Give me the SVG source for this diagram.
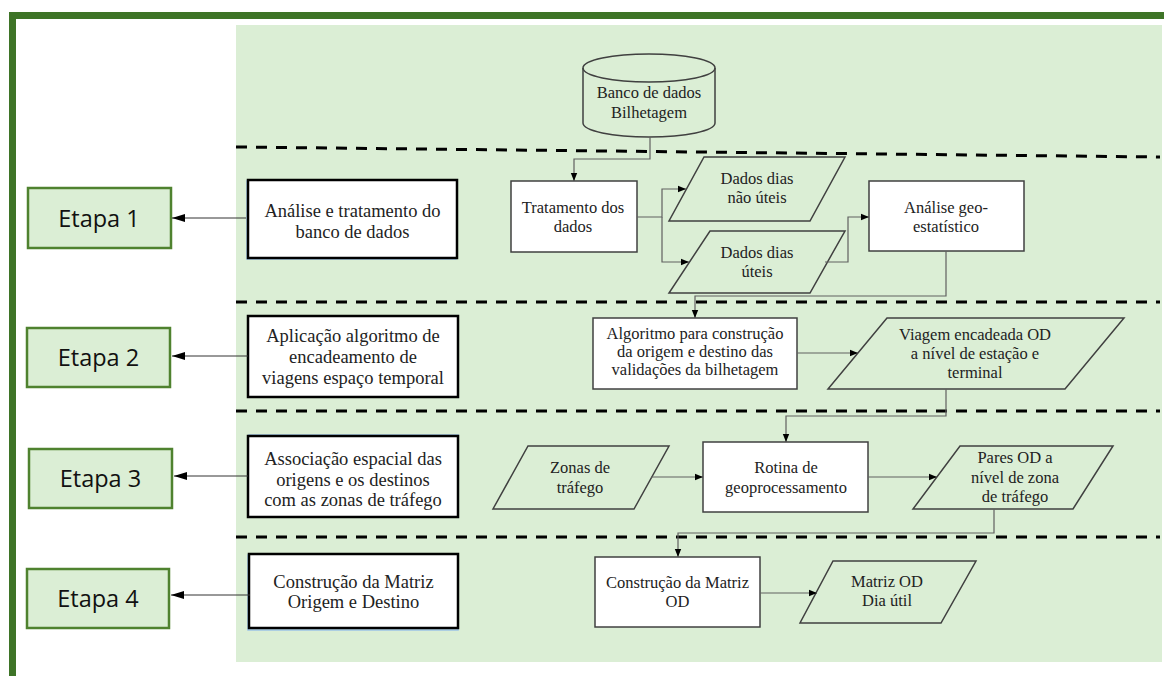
<svg xmlns="http://www.w3.org/2000/svg" width="1164" height="676" viewBox="0 0 1164 676">
<defs>
<marker id="ah" viewBox="0 0 10 10" refX="10" refY="5" markerWidth="8" markerHeight="8" markerUnits="userSpaceOnUse" orient="auto"><path d="M0,1 L10,5 L0,9 Z" fill="#000"/></marker>
<marker id="ahL" viewBox="0 0 10 10" refX="10" refY="5" markerWidth="13" markerHeight="10" markerUnits="userSpaceOnUse" orient="auto" preserveAspectRatio="none"><path d="M0,1 L10,5 L0,9 Z" fill="#000"/></marker>
<style>
.etapa rect{fill:#dbeed5;stroke:#4f822f;stroke-width:2.5}
.etapa text{font-family:"Open Sans","Liberation Sans",sans-serif;font-size:23.5px;fill:#111;text-anchor:middle}
.desc .sh{fill:none;stroke:#9dc3e6;stroke-width:1.5}
.desc .bx{fill:#fff;stroke:#000;stroke-width:2.5}
.t{font-family:"Liberation Serif","Times New Roman",serif;fill:#222;text-anchor:middle}
.desc text{font-size:18.5px}
.fc rect,.fc .box{fill:#fff;stroke:#404040;stroke-width:1.5}
.fc .para,.fc .cyl{fill:#dbeed5;stroke:#404040;stroke-width:1.5}
.fc text{font-size:16.5px}
.dash{stroke:#000;stroke-width:3;stroke-dasharray:11 9;fill:none}
.conn{fill:none;stroke:#606060;stroke-width:1.2}
.lconn{fill:none;stroke:#333;stroke-width:1}
</style>
</defs>
<rect x="0" y="0" width="1164" height="676" fill="#fff"/>
<rect x="12.5" y="15.5" width="1200" height="700" fill="none" stroke="#3e7427" stroke-width="7"/>
<rect x="236" y="25" width="926" height="637" fill="#dbeed5"/>
<g id="separators">
<line class="dash" x1="236" y1="147" x2="1160" y2="157"/>
<line class="dash" x1="236" y1="302" x2="1160" y2="302"/>
<line class="dash" x1="236" y1="411" x2="1160" y2="411"/>
<line class="dash" x1="236" y1="537" x2="1160" y2="537"/>
</g>
<g id="etapa1" class="etapa"><rect x="28" y="188" width="143" height="60"/><text x="99" y="226.5">Etapa 1</text></g>
<g id="etapa2" class="etapa"><rect x="27" y="328" width="143" height="59"/><text x="98.5" y="366">Etapa 2</text></g>
<g id="etapa3" class="etapa"><rect x="29" y="449" width="143" height="59"/><text x="100.5" y="487">Etapa 3</text></g>
<g id="etapa4" class="etapa"><rect x="27" y="569" width="142" height="59"/><text x="98" y="607">Etapa 4</text></g>
<g id="desc1" class="desc"><rect class="sh" x="247" y="181" width="209" height="78"/><rect class="bx" x="248" y="180" width="209" height="78"/><text class="t" x="352.5" y="216.5">Análise e tratamento do</text><text class="t" x="352.5" y="238">banco de dados</text></g>
<g id="desc2" class="desc"><rect class="bx" x="248" y="316" width="210" height="81"/><text class="t" x="353" y="342">Aplicação algoritmo de</text><text class="t" x="353" y="363">encadeamento de</text><text class="t" x="353" y="384">viagens espaço temporal</text></g>
<g id="desc3" class="desc"><rect class="sh" x="249" y="435" width="209" height="81"/><rect class="bx" x="248" y="436" width="210" height="81"/><text class="t" x="353" y="465">Associação espacial das</text><text class="t" x="353" y="486">origens e os destinos</text><text class="t" x="353" y="506">com as zonas de tráfego</text></g>
<g id="desc4" class="desc"><rect class="sh" x="248" y="555" width="210" height="75"/><rect class="bx" x="249" y="554" width="209" height="74"/><text class="t" x="353.5" y="588">Construção da Matriz</text><text class="t" x="353.5" y="608">Origem e Destino</text></g>
<g id="banco" class="fc"><path class="cyl" d="M583,68 A66,14 0 0 1 715,68 L715,123 A66,14 0 0 1 583,123 Z"/><path d="M583,68 A66,14 0 0 0 715,68" fill="none" stroke="#404040" stroke-width="1.5"/><text class="t" x="649" y="98">Banco de dados</text><text class="t" x="649" y="118">Bilhetagem</text></g>
<g id="tratamento" class="fc"><rect x="511" y="181" width="126" height="71"/><text class="t" x="573" y="213">Tratamento dos</text><text class="t" x="573" y="231.5">dados</text></g>
<g id="naouteis" class="fc"><polygon class="para" points="704,157 845,157 810,221 669,221"/><text class="t" x="757" y="184">Dados dias</text><text class="t" x="757" y="203">não úteis</text></g>
<g id="uteis" class="fc"><polygon class="para" points="710,231 845,231 810,293 669,293"/><text class="t" x="757" y="258">Dados dias</text><text class="t" x="757" y="277">úteis</text></g>
<g id="geo" class="fc"><rect x="869" y="181" width="155" height="70"/><text class="t" x="946" y="213">Análise geo-</text><text class="t" x="946" y="231.5">estatístico</text></g>
<g id="algoritmo" class="fc"><rect x="593" y="318" width="204" height="71"/><text class="t" x="695" y="338.5">Algoritmo para construção</text><text class="t" x="695" y="357">da origem e destino das</text><text class="t" x="695" y="375">validações da bilhetagem</text></g>
<g id="viagem" class="fc"><polygon class="para" points="887,318 1124,318 1065,389 828,389"/><text class="t" x="975" y="340">Viagem encadeada OD</text><text class="t" x="975" y="359">a nível de estação e</text><text class="t" x="975" y="378">terminal</text></g>
<g id="zonas" class="fc"><polygon class="para" points="528,446 669,446 634,509 493,509"/><text class="t" x="580" y="473">Zonas de</text><text class="t" x="580" y="492.5">tráfego</text></g>
<g id="rotina" class="fc"><rect x="703" y="442" width="165" height="70"/><text class="t" x="786" y="473">Rotina de</text><text class="t" x="786" y="492.5">geoprocessamento</text></g>
<g id="pares" class="fc"><polygon class="para" points="960,446 1113,446 1073,509 913,509"/><text class="t" x="1015" y="463">Pares OD a</text><text class="t" x="1015" y="483">nível de zona</text><text class="t" x="1015" y="501.5">de tráfego</text></g>
<g id="construcao" class="fc"><rect x="595" y="557" width="165" height="70"/><text class="t" x="677.5" y="588">Construção da Matriz</text><text class="t" x="677.5" y="607">OD</text></g>
<g id="matriz" class="fc"><polygon class="para" points="833,561 976,561 941,623 800,623"/><text class="t" x="887" y="587">Matriz OD</text><text class="t" x="887" y="606">Dia útil</text></g>
<g id="connectors">
<line class="lconn" x1="246" y1="218" x2="172" y2="218" marker-end="url(#ahL)"/>
<line class="lconn" x1="248" y1="356" x2="172" y2="356" marker-end="url(#ahL)"/>
<line class="lconn" x1="248" y1="476" x2="174" y2="476" marker-end="url(#ahL)"/>
<line class="lconn" x1="250" y1="595" x2="171" y2="595" marker-end="url(#ahL)"/>
<polyline class="conn" points="650,137 650,159 574,159 574,181" marker-end="url(#ah)"/>
<polyline class="conn" points="637,217 662,217 662,189 686,189" marker-end="url(#ah)"/>
<polyline class="conn" points="662,217 662,262 689,262" marker-end="url(#ah)"/>
<polyline class="conn" points="825,262 848,262 848,217 869,217" marker-end="url(#ah)"/>
<polyline class="conn" points="946,251 946,296 695,296 695,318" marker-end="url(#ah)"/>
<polyline class="conn" points="797,353 858,353" marker-end="url(#ah)"/>
<polyline class="conn" points="946,389 946,416 786,416 786,442" marker-end="url(#ah)"/>
<polyline class="conn" points="651,477 703,477" marker-end="url(#ah)"/>
<polyline class="conn" points="868,477 937,477" marker-end="url(#ah)"/>
<polyline class="conn" points="994,509 994,533 678,533 678,557" marker-end="url(#ah)"/>
<polyline class="conn" points="760,593 817,593" marker-end="url(#ah)"/>
</g>
</svg>
